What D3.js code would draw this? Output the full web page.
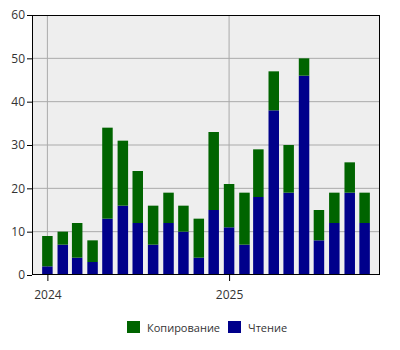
<!DOCTYPE html>
<html>
<head>
<meta charset="utf-8">
<script src="https://cdn.jsdelivr.net/npm/d3@7"></script>
<style>
  body { margin: 0; background: #fff; }
  text { font-family: "Open Sans", "Noto Sans", sans-serif; }
</style>
</head>
<body>
<svg id="viz"></svg>
<script>

// the data
var months = ["2024-01","2024-02","2024-03","2024-04","2024-05","2024-06","2024-07","2024-08",
	"2024-09","2024-10","2024-11","2024-12","2025-01","2025-02","2025-03","2025-04",
	"2025-05","2025-06","2025-07","2025-08","2025-09","2025-10"];
var reading = [2, 7, 4, 3, 13, 16, 12, 7, 12, 10, 4, 15, 11, 7, 18, 38, 19, 46, 8, 12, 19, 12];
var copying = [7, 3, 8, 5, 21, 15, 12, 9, 7, 6, 9, 18, 10, 12, 11, 9, 11, 4, 7, 7, 7, 7];
var seriesNames = ["Копирование", "Чтение"];
var yTicks = [0, 10, 20, 30, 40, 50, 60];
var xTicks = ["2024-01-01", "2025-01-01"];

// set up the svg
var w = 400, h = 350;
var m = {top: 15, right: 20, bottom: 75, left: 32};
var viz = d3.select("#viz").attr("width", w).attr("height", h);

var parse = d3.timeParse("%Y-%m");
var data = months.map(function(d, i) {
	return {date: parse(d), reading: reading[i], copying: copying[i]};
});

var x = d3.scaleTime()
	.domain([new Date(2023, 11, 1), new Date(2025, 10, 1)])
	.range([m.left, w - m.right]);
var y = d3.scaleLinear().domain([0, 60]).range([h - m.bottom, m.top]);
var barW = 10.5;

var colors = {"Копирование": "#006400", "Чтение": "#00008b"};

// background
viz.append("rect")
	.attr("x", m.left).attr("y", m.top)
	.attr("width", w - m.left - m.right).attr("height", h - m.top - m.bottom)
	.attr("fill", "#eeeeee");

// grid
viz.selectAll("line.hgrid").data(yTicks.slice(1, -1)).enter().append("line")
	.attr("class", "hgrid")
	.attr("x1", m.left).attr("x2", w - m.right)
	.attr("y1", function(d) { return y(d); }).attr("y2", function(d) { return y(d); })
	.attr("stroke", "#aaa").attr("stroke-width", 1);
viz.selectAll("line.vgrid").data(xTicks).enter().append("line")
	.attr("class", "vgrid")
	.attr("x1", function(d) { return x(new Date(d + "T00:00")); })
	.attr("x2", function(d) { return x(new Date(d + "T00:00")); })
	.attr("y1", m.top).attr("y2", h - m.bottom)
	.attr("stroke", "#aaa").attr("stroke-width", 1);

// stacked bars
var stack = d3.stack().keys(["reading", "copying"]);
var layers = stack(data);
viz.selectAll("g.layer").data(layers).enter().append("g")
	.attr("class", "layer")
	.attr("fill", function(d) { return d.key == "reading" ? colors["Чтение"] : colors["Копирование"]; })
	.selectAll("rect").data(function(d) { return d; }).enter().append("rect")
	.attr("x", function(d) { return x(d.data.date) - barW / 2; })
	.attr("width", barW)
	.attr("y", function(d) { return y(d[1]); })
	.attr("height", function(d) { return y(d[0]) - y(d[1]); });

// frame
viz.append("rect")
	.attr("x", m.left + 0.5).attr("y", m.top + 0.5)
	.attr("width", w - m.left - m.right - 1).attr("height", h - m.top - m.bottom - 1)
	.attr("fill", "none").attr("stroke", "#000").attr("stroke-width", 1);

// axes
var yAxis = d3.axisLeft(y).tickValues(yTicks).tickSize(5).tickPadding(2);
viz.append("g").attr("transform", "translate(" + m.left + ",0)").call(yAxis)
	.call(function(g) { g.select(".domain").remove(); })
	.selectAll("text").attr("font-size", 12).attr("fill", "#333")
	.style("font-family", "'Open Sans', sans-serif");

var xAxis = d3.axisBottom(x)
	.tickValues(xTicks.map(function(d) { return new Date(d + "T00:00"); }))
	.tickFormat(d3.timeFormat("%Y")).tickSize(6).tickPadding(9);
viz.append("g").attr("transform", "translate(0," + (h - m.bottom) + ")").call(xAxis)
	.call(function(g) { g.select(".domain").remove(); })
	.selectAll("text").attr("font-size", 12).attr("fill", "#333")
	.style("font-family", "'Open Sans', sans-serif");

// legend
var legend = viz.append("g").attr("transform", "translate(127,320)");
var lx = [0, 101];
seriesNames.forEach(function(name, i) {
	legend.append("rect").attr("x", lx[i]).attr("y", 1)
		.attr("width", 13).attr("height", 12).attr("fill", colors[name]);
	legend.append("text").attr("x", lx[i] + 20).attr("y", 11.5)
		.attr("font-size", 11).attr("fill", "#333").text(name);
});

</script>
</body>
</html>
